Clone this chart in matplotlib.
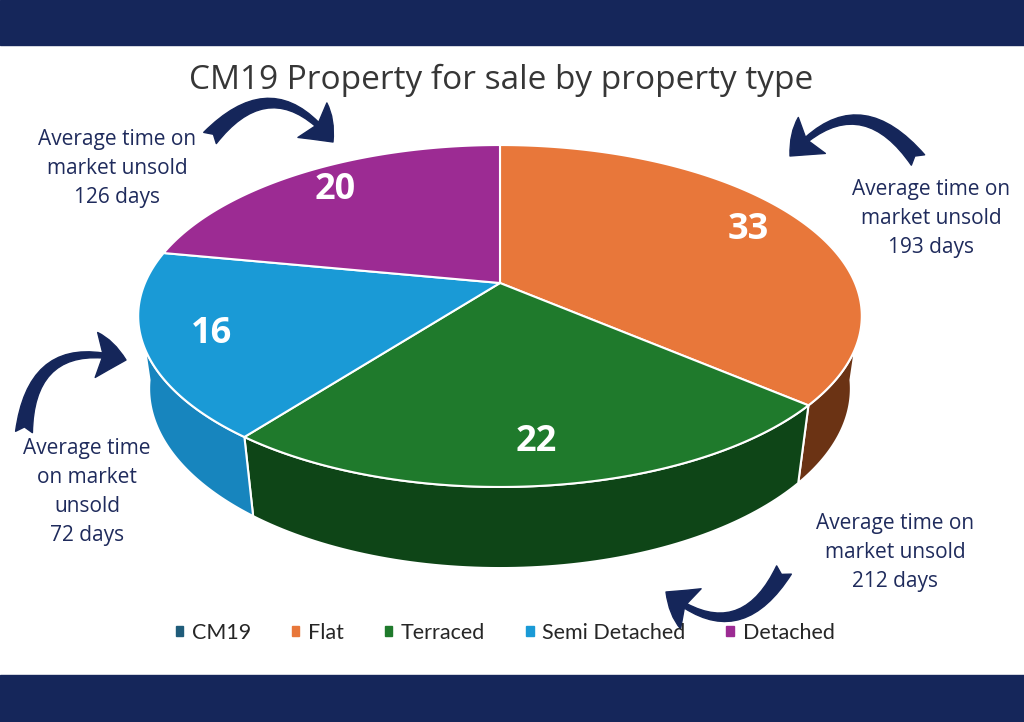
import numpy as np
import matplotlib
matplotlib.use("Agg")
from matplotlib import pyplot as plt
from matplotlib.patches import Polygon, Patch, FancyArrowPatch

# data
types = ["CM19", "Flat", "Terraced", "Semi Detached", "Detached"]
counts = [0, 33, 22, 16, 20]
top_colors = ["#1f5c7a", "#e8773a", "#1f7a2c", "#1a9ad6", "#9c2b93"]
side_colors = ["#174a63", "#6b3314", "#0e4517", "#1785be", "#6e1f69"]
notes = [None,
         "Average time on\nmarket unsold\n193 days",
         "Average time on\nmarket unsold\n212 days",
         "Average time\non market\nunsold\n72 days",
         "Average time on\nmarket unsold\n126 days"]

navy = "#15265a"
note_col = "#1f2b5c"

# 3d pie geometry (pixel space, y down)
cx, cy = 500, 283
a, b = 355, 164.6
p = 0.193
q = 0.03
depth = 74


def proj(theta, r=1.0, h=0.0):
    t = np.radians(theta)
    u = r * np.sin(t)
    v = r * np.cos(t)
    k = 1.0 / (1 + p * v + q * h)
    return cx + a * u * k, cy - b * v * k + depth * h * k


fig = plt.figure(figsize=(10.24, 7.22), dpi=100)
ax = fig.add_axes([0, 0, 1, 1])
ax.set_xlim(0, 1024)
ax.set_ylim(722, 0)
ax.axis("off")

ax.axhspan(0, 45, color=navy, zorder=0)
ax.axhspan(675, 722, color=navy, zorder=0)

total = sum(counts)
angles = np.cumsum([0] + counts) / total * 360
vis_lo = np.degrees(np.arccos(-p))
vis_hi = 360 - vis_lo

# sides
for i in range(len(types)):
    if counts[i] == 0:
        continue
    s, e = angles[i], angles[i + 1]
    lo, hi = max(s, vis_lo - 3), min(e, vis_hi + 3)
    if lo >= hi:
        continue
    th = np.linspace(lo, hi, 80)
    top = np.array([proj(t) for t in th])
    bot = np.array([proj(t, h=1.0) for t in th[::-1]])
    ax.add_patch(Polygon(np.vstack([top, bot]), closed=True, fc=side_colors[i],
                         ec="white", lw=1.5, zorder=2))

# top faces
for i in range(len(types)):
    if counts[i] == 0:
        continue
    s, e = angles[i], angles[i + 1]
    th = np.linspace(s, e, 150)
    pts = [proj(0, r=0)] + [proj(t) for t in th]
    ax.add_patch(Polygon(pts, closed=True, fc=top_colors[i], ec="white", lw=1.5,
                         joinstyle="round", zorder=3))
    mx, my = proj((s + e) / 2, r=0.82)
    ax.text(mx, my, str(counts[i]), color="white", fontsize=26, fontweight="bold",
            family="Open Sans", ha="center", va="center", zorder=5)

# title
ax.text(501, 80, "CM19 Property for sale by property type", fontsize=24,
        family="Open Sans", color="#363636", ha="center", va="center")

# notes
note_pos = [None, (931, 218), (895, 553), (87, 492), (117, 168)]
for i in range(len(types)):
    if notes[i] is None:
        continue
    ax.text(note_pos[i][0], note_pos[i][1], notes[i], fontsize=15, family="Open Sans",
            color=note_col, ha="center", va="center", linespacing=1.5)

# curved arrows
arrows = [((210, 138), (333, 142), -0.6),
          ((918, 160), (790, 156), 0.6),
          ((24, 432), (126, 360), -0.6),
          ((784, 570), (666, 592), -0.6)]
for A, B, rad in arrows:
    ax.add_patch(FancyArrowPatch(A, B, connectionstyle=f"arc3,rad={rad}",
                                 arrowstyle="fancy,head_length=0.8,head_width=1.2,tail_width=0.45",
                                 mutation_scale=27, color=navy, shrinkA=0, shrinkB=0, zorder=4))

# legend
handles = [Patch(color=c) for c in top_colors]
ax.legend(handles, types, loc="center", bbox_to_anchor=(505 / 1024, 1 - 633 / 722),
          ncol=5, frameon=False, handlelength=0.35, handleheight=0.35,
          handletextpad=0.4, columnspacing=1.9,
          prop={"family": ["Lato", "DejaVu Sans"], "size": 15.5},
          labelcolor="#262626")

fig.savefig("out.png", dpi=100)
